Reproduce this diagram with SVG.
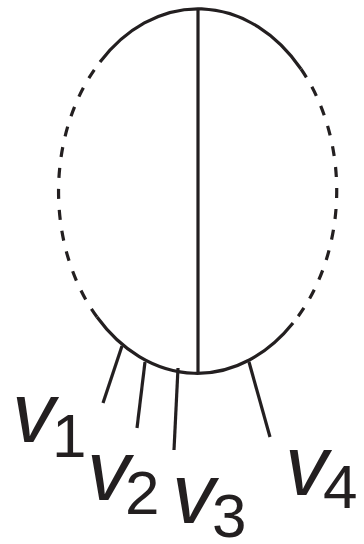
<svg xmlns="http://www.w3.org/2000/svg" width="364" height="544" viewBox="0 0 364 544">
<style>
.e{fill:none;stroke:#231f20;stroke-width:3.2}
.d{stroke-dasharray:10 11}
.lbl{font-family:"Liberation Sans",Arial,sans-serif;font-style:italic;font-size:86px;fill:#231f20}
.sub{font-style:normal;font-size:62px}
</style>
<rect width="364" height="544" fill="#fff"/>
<g id="connectors">
<path class="e" d="M100,62 A138.5,181.5 0 0 1 301,69"/>
<path class="e d" d="M301,69 A138.5,181.5 0 0 1 293,323"/>
<path class="e" d="M293,323 A138.5,181.5 0 0 1 97,317"/>
<path class="e d" d="M97,317 A138.5,181.5 0 0 1 100,62"/>
<line class="e" x1="198" y1="9" x2="198" y2="372"/>
<line class="e" x1="122" y1="346" x2="103" y2="403"/>
<line class="e" x1="145" y1="362" x2="137" y2="428"/>
<line class="e" x1="178" y1="368" x2="174" y2="450"/>
<line class="e" x1="249" y1="362" x2="270" y2="437"/>
</g>
<g id="v1"><text class="lbl" x="12" y="442">v<tspan class="sub" x="52" y="457">1</tspan></text></g>
<g id="v2"><text class="lbl" x="87" y="500">v<tspan class="sub" x="125" y="514">2</tspan></text></g>
<g id="v3"><text class="lbl" x="172" y="523">v<tspan class="sub" x="212" y="537">3</tspan></text></g>
<g id="v4"><text class="lbl" x="285" y="495">v<tspan class="sub" x="323" y="508">4</tspan></text></g>
</svg>
